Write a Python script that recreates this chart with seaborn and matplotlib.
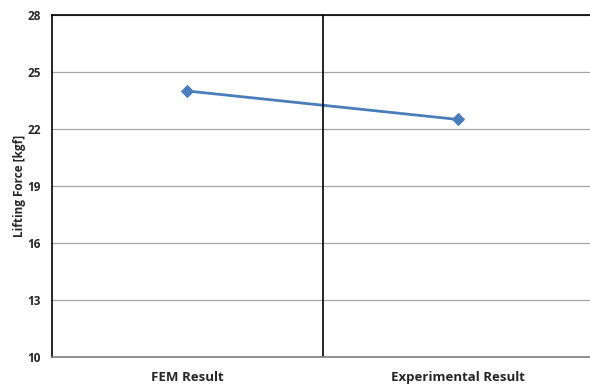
import pandas as pd
import seaborn as sns
import matplotlib.pyplot as plt

sns.set_style("white")
plt.rcParams['font.family'] = ['Open Sans', 'DejaVu Sans']

categories = ['FEM Result', 'Experimental Result']
lifting_force = [24.0, 22.5]
y_ticks = [10, 13, 16, 19, 22, 25, 28]

df = pd.DataFrame({'category': categories, 'force': lifting_force})
df['pos'] = range(len(df))

fig, ax = plt.subplots(figsize=(5.9, 3.85), dpi=100)

sns.lineplot(x='pos', y='force', data=df, ax=ax, color='#4a7ebb',
             linewidth=2, marker='D', markersize=6,
             markeredgecolor='#4a7ebb')

ax.set_xlim(-0.5, 1.5)
ax.set_ylim(10, 28)
ax.set_yticks(y_ticks)
ax.set_xticks(df['pos'])
ax.set_xticklabels(categories)
ax.yaxis.grid(True, color='#a6a6a6', linewidth=0.9)
ax.axvline(0.5, color='black', linewidth=1.2)

for side in ['left', 'top']:
    ax.spines[side].set_color('black')
    ax.spines[side].set_linewidth(1.2)
ax.spines['right'].set_visible(False)
ax.spines['bottom'].set_color('#7f7f7f')
ax.spines['bottom'].set_linewidth(1.2)

ax.tick_params(axis='y', length=0, labelsize=8.5, pad=8)
ax.tick_params(axis='x', length=0, labelsize=9.5, pad=10)
for lbl in ax.get_xticklabels() + ax.get_yticklabels():
    lbl.set_fontweight('bold')

ax.set_xlabel('')
ax.set_ylabel('Lifting Force [kgf]', fontsize=8.5, fontweight='bold', labelpad=1)

plt.subplots_adjust(left=0.088, right=1.006, top=0.961, bottom=0.073)
plt.savefig('out.png')
